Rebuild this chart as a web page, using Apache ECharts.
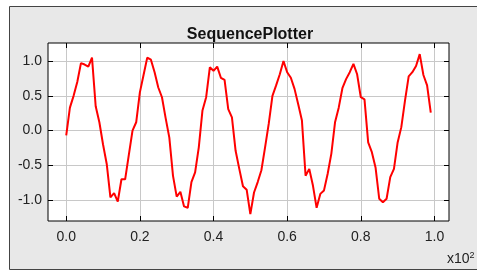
<!DOCTYPE html>
<html>
<head>
<meta charset="utf-8">
<script src="https://cdn.jsdelivr.net/npm/echarts@6/dist/echarts.min.js"></script>
<style>
  html, body { margin: 0; padding: 0; background: #fff; }
  #chart { width: 477px; height: 272px; }
</style>
</head>
<body>
<div id="chart"></div>
<script>
// data
const title = "SequencePlotter";
const xTicks = [0, 20, 40, 60, 80, 100];
const yTicks = [-1, -0.5, 0, 0.5, 1];
const samples = [
  -0.07, 0.33, 0.5, 0.7, 0.97, 0.95, 0.92, 1.05, 0.35, 0.12,
  -0.2, -0.48, -0.96, -0.9, -1.02, -0.7, -0.7, -0.35, 0.0, 0.12,
  0.55, 0.8, 1.05, 1.02, 0.84, 0.62, 0.48, 0.18, -0.1, -0.65,
  -0.95, -0.88, -1.09, -1.11, -0.74, -0.6, -0.24, 0.29, 0.48, 0.91,
  0.86, 0.92, 0.76, 0.73, 0.31, 0.19, -0.29, -0.55, -0.8, -0.85,
  -1.2, -0.89, -0.74, -0.57, -0.24, 0.1, 0.5, 0.65, 0.81, 1.0,
  0.84, 0.76, 0.6, 0.38, 0.15, -0.65, -0.55, -0.79, -1.11, -0.91,
  -0.86, -0.62, -0.33, 0.12, 0.33, 0.61, 0.74, 0.84, 0.96, 0.81,
  0.48, 0.45, -0.17, -0.31, -0.53, -0.98, -1.03, -0.98, -0.67, -0.55,
  -0.17, 0.05, 0.43, 0.78, 0.84, 0.93, 1.1, 0.8, 0.65, 0.26
];
const xIndex = samples.map((_, i) => i);

const font = '"Liberation Sans", Arial, sans-serif';
const xMin = -4.95, xMax = 103.95;
const yMin = -1.3, yMax = 1.26;

const myChart = echarts.init(document.getElementById("chart"));

const tickStyle = { show: true, inside: true, length: 5, lineStyle: { color: "#000", width: 1 } };
const noLine = { show: false, onZero: false };

const option = {
  animation: false,
  backgroundColor: "#fff",
  graphic: [
    {
      type: "rect",
      z: -10,
      shape: { x: 9.5, y: 6.5, width: 480, height: 263 },
      style: { fill: "#e8e8e8", stroke: "#444", lineWidth: 1 }
    },
    {
      type: "text",
      left: 447,
      top: 251,
      style: {
        text: "x10{s|2}",
        font: "14px " + font,
        fill: "#222",
        rich: { s: { fontSize: 9, fontFamily: font, fill: "#222", verticalAlign: "top", padding: [0, 0, 8, 0] } }
      }
    }
  ],
  title: {
    text: title,
    left: 245,
    textAlign: "center",
    top: 22,
    textStyle: { fontFamily: font, fontSize: 16, fontWeight: "bold", color: "#111" }
  },
  grid: {
    left: 48,
    right: 28,
    top: 43,
    bottom: 51,
    show: true,
    backgroundColor: "#fff",
    borderColor: "#000",
    borderWidth: 1
  },
  xAxis: [
    {
      type: "value",
      min: xMin,
      max: xMax,
      axisLine: noLine,
      axisTick: Object.assign({ customValues: xTicks }, tickStyle),
      splitLine: { show: true, lineStyle: { color: "#c8c8c8", width: 1 } },
      axisLabel: {
        customValues: xTicks,
        margin: 9,
        fontFamily: font,
        fontSize: 14,
        color: "#222",
        formatter: v => (v / 100).toFixed(1)
      }
    },
    {
      type: "value",
      position: "top",
      min: xMin,
      max: xMax,
      axisLine: noLine,
      axisTick: Object.assign({ customValues: xTicks }, tickStyle),
      splitLine: { show: false },
      axisLabel: { show: false }
    }
  ],
  yAxis: [
    {
      type: "value",
      min: yMin,
      max: yMax,
      axisLine: noLine,
      axisTick: Object.assign({ customValues: yTicks }, tickStyle),
      splitLine: { show: true, lineStyle: { color: "#c8c8c8", width: 1 } },
      axisLabel: {
        customValues: yTicks,
        margin: 6,
        fontFamily: font,
        fontSize: 14,
        color: "#222",
        formatter: v => v.toFixed(1)
      }
    },
    {
      type: "value",
      position: "right",
      min: yMin,
      max: yMax,
      axisLine: noLine,
      axisTick: Object.assign({ customValues: yTicks }, tickStyle),
      splitLine: { show: false },
      axisLabel: { show: false }
    }
  ],
  series: [
    {
      type: "line",
      xAxisIndex: 0,
      yAxisIndex: 0,
      showSymbol: false,
      lineStyle: { color: "#ff0000", width: 2 },
      data: xIndex.map((x, i) => [x, samples[i]])
    }
  ]
};
myChart.setOption(option);
</script>
</body>
</html>
